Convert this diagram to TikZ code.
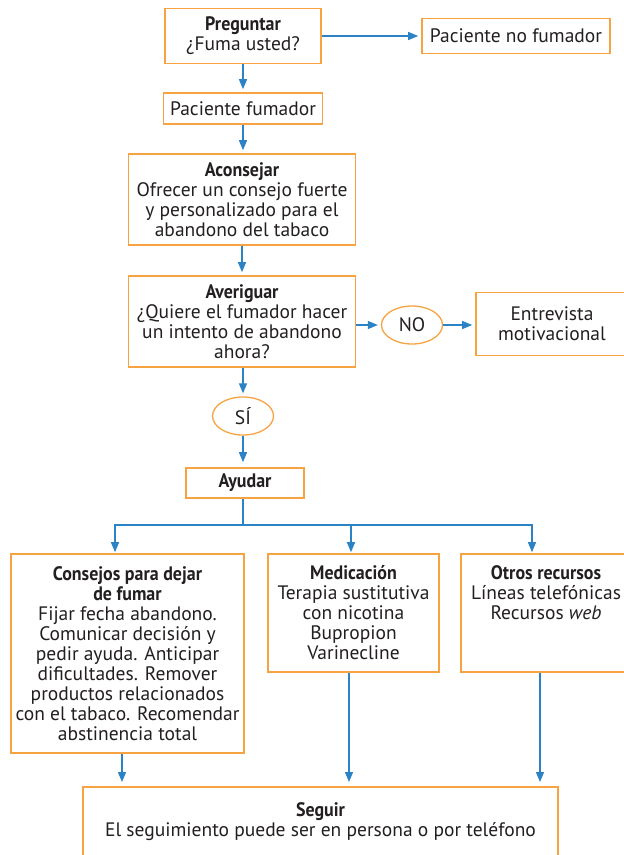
\documentclass[tikz,border=0pt]{standalone}
\usepackage{fontspec}
\setmainfont{PT Sans}
\newfontfamily\headfont[FakeStretch=0.92]{PT Sans}
\usetikzlibrary{arrows.meta,shapes.geometric}
\definecolor{boxorange}{RGB}{247,163,66}
\definecolor{arrowblue}{RGB}{43,131,198}
\definecolor{textgray}{RGB}{35,31,32}
\newcommand{\hd}[1]{{\headfont\bfseries #1}}
\begin{document}
\begin{tikzpicture}[x=1pt,y=-1pt,
  stepbox/.style={draw=boxorange,line width=1.6pt,align=center,text=textgray,font=\fontsize{19.5}{20}\selectfont,inner sep=0pt},
  answer/.style={ellipse,draw=boxorange,line width=1.3pt,text=textgray,font=\fontsize{19.5}{20}\selectfont,inner sep=0pt,minimum width=61pt,minimum height=38pt},
  arr/.style={arrowblue,line width=1.3pt,-{Triangle[length=10pt,width=8pt]},shorten >=3pt}]
\useasboundingbox (0,0) rectangle (624,855);
\node[stepbox,minimum width=156pt,minimum height=55pt] (preg) at (243,36) {\hd{Preguntar}\\¿Fuma usted?};
\node[stepbox,minimum width=188pt,minimum height=35pt] (nofum) at (516,36) {Paciente no fumador};
\node[stepbox,minimum width=159pt,minimum height=31pt] (fum) at (243,108.5) {Paciente fumador};
\node[stepbox,minimum width=227pt,minimum height=91pt] (acons) at (242,199.5) {\hd{Aconsejar}\\Ofrecer un consejo fuerte\\y personalizado para el\\abandono del tabaco};
\node[stepbox,minimum width=227pt,minimum height=91pt] (aver) at (242,321.5) {\hd{Averiguar}\\¿Quiere el fumador hacer\\un intento de abandono\\ahora?};
\node[answer] (no) at (412,325) {NO};
\node[stepbox,minimum width=152pt,minimum height=63pt] (entre) at (552,324) {Entrevista\\motivacional};
\node[answer] (si) at (243,416) {SÍ};
\node[stepbox,minimum width=118pt,minimum height=30pt] (ayud) at (245,483) {\hd{Ayudar}};
\node[stepbox,minimum width=233pt,minimum height=199pt] (cons) at (127.5,653.5) {\hd{Consejos para dejar}\\\hd{de fumar}\\Fijar fecha abandono.\\Comunicar decisión y\\pedir ayuda. Anticipar\\dificultades. Remover\\productos relacionados\\con el tabaco. Recomendar\\abstinencia total};
\node[stepbox,minimum width=171pt,minimum height=118pt] (medic) at (353.5,613) {\hd{Medicación}\\Terapia sustitutiva\\con nicotina\\Bupropion\\Varinecline};
\node[stepbox,minimum width=170pt,minimum height=118pt] (otros) at (546,613) {\hd{Otros recursos}\\Líneas telefónicas\\Recursos \textit{web}\\~\\~};
\node[stepbox,minimum width=475pt,minimum height=70pt] (seg) at (320.5,822) {\hd{Seguir}\\El seguimiento puede ser en persona o por teléfono};
\coordinate (split) at (243,525);
\coordinate (bl) at (115,525);
\coordinate (bm) at (351,525);
\coordinate (br) at (532,525);
\coordinate (sl) at (122,787);
\coordinate (sm) at (349,787);
\coordinate (sr) at (540,787);
\draw[arr] (preg) -- (nofum);
\draw[arr] (preg) -- (fum);
\draw[arr] (fum.south) -- (fum.south |- acons.north);
\draw[arr] (acons) -- (aver);
\draw[arr] (aver.east |- no) -- (no);
\draw[arr] (no) -- (no -| entre.west);
\draw[arr] (aver.south -| si) -- (si);
\draw[arr,shorten >=5pt] (si) -- (si |- ayud.north);
\draw[arr,shorten >=1pt] (ayud.south -| split) -- (split) -- (bl) -- (bl |- cons.north);
\draw[arr,shorten >=1pt] (split) -- (bm) -- (bm |- medic.north);
\draw[arr,shorten >=1pt] (split) -- (br) -- (br |- otros.north);
\draw[arr,shorten >=5pt] (cons.south -| sl) -- (sl);
\draw[arr,shorten >=5pt] (medic.south -| sm) -- (sm);
\draw[arr,shorten >=5pt] (otros.south -| sr) -- (sr);
\end{tikzpicture}
\end{document}
